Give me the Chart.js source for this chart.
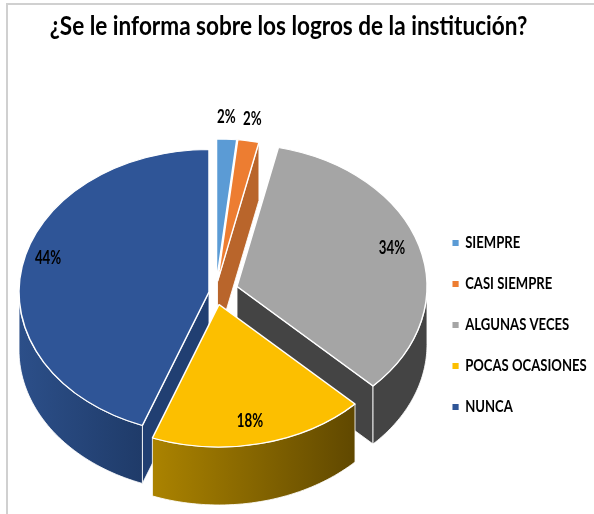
<!DOCTYPE html>
<html><head><meta charset="utf-8">
<script src="https://cdn.jsdelivr.net/npm/chart.js@4"></script>
<style>
html,body{margin:0;padding:0;background:#fff;width:594px;height:514px;overflow:hidden}
#frame{position:absolute;left:6px;top:3px;width:600px;height:520px;border-left:2px solid #d0d0d0;border-top:2px solid #d0d0d0;box-sizing:border-box}
canvas{position:absolute;left:0;top:0}
</style></head><body>
<div id="frame"></div>
<canvas id="c" width="594" height="514"></canvas>
<script>
const titleText = '¿Se le informa sobre los logros de la institución?';
const categories = ['SIEMPRE','CASI SIEMPRE','ALGUNAS VECES','POCAS OCASIONES','NUNCA'];
const percentages = [1.7,1.8,33.8,18.4,44.3];
const topColors = ['#5b9bd5','#ed7d31','#a5a5a5','#fcbf00','#2f5597'];
const wallLeft = ['#4a7fb0','#b9652b','#444444','#ab8300','#2c4f89'];
const wallRight = ['#4a7fb0','#b9652b','#444444','#604800','#1f3b69'];
const faceColors = ['#4a7fb0','#b9652b','#444444','#8a6a00','#213f72'];

// pseudo-3D projection settings
const FONT = 'Lato,"Open Sans",sans-serif';
const center = {x:222, y:292};
const tilt = 0.75, depth = 58, pieRadius = 190;
const explode = [[-5.5,-10.5],[-4.5,-10.5],[15,-5.5],[-3,12.5],[-13,0]];
const wallOrder = [0,1,4,2,3];
const visibleFace = [null,'end','end',null,'start'];
const labelPos = [{r:1.16,dx:-2,dy:1},{r:1.16,dx:-1,dy:1},{r:0.84,dx:2,dy:-4},{r:0.82,dx:-3,dy:2.5},{r:0.85,dx:-2,dy:-12}];
const labelStretch = 0.72;
// Calibri-like proportions: Lato squeezed horizontally
const titleBox = {centerX:288.5, y:9.5, sx:0.868, sy:1};
const legendBox = {left:434, top:82, sx:0.77};

function wrapBox(box,fn){
  const orig=box.draw;
  box.draw=function(a){const ctx=this.ctx;ctx.save();fn(ctx,this);orig.call(this,a);ctx.restore();};
}

const pie3d = {
  id:'pie3d',
  beforeDraw(chart){
    if(chart.$wrapped)return; chart.$wrapped=true;
    wrapBox(chart.titleBlock,(ctx,b)=>{
      ctx.translate(titleBox.centerX,titleBox.y);ctx.scale(titleBox.sx,titleBox.sy);ctx.translate(-(b.left+b.right)/2,-b.top);
    });
    wrapBox(chart.legend,(ctx,b)=>{
      ctx.translate(legendBox.left,legendBox.top);ctx.scale(legendBox.sx,1);ctx.translate(-b.left,-b.top);
    });
  },
  beforeDatasetDraw(chart,args){
    const ctx = chart.ctx, arcs = args.meta.data;
    const origin = i => ({x:center.x+explode[i][0], y:center.y+explode[i][1]});
    const pt = (o,a,r,d=0)=>({x:o.x+r*Math.cos(a), y:o.y+tilt*r*Math.sin(a)+d});
    const poly = (pts,fill)=>{
      ctx.beginPath(); pts.forEach((p,k)=>k?ctx.lineTo(p.x,p.y):ctx.moveTo(p.x,p.y)); ctx.closePath();
      ctx.fillStyle=fill; ctx.fill(); ctx.strokeStyle='rgba(255,255,255,0.85)'; ctx.lineWidth=1; ctx.stroke();
    };
    wallOrder.forEach(i=>{
      const arc=arcs[i], o=origin(i), r=arc.outerRadius;
      const a1=arc.startAngle, a2=arc.endAngle;
      if(visibleFace[i]){
        const p=pt(o,visibleFace[i]==='end'?a2:a1,r);
        poly([{x:o.x,y:o.y},p,{x:p.x,y:p.y+depth},{x:o.x,y:o.y+depth}],faceColors[i]);
      }
      const start=Math.max(a1,0), end=Math.min(a2,Math.PI);
      if(end>start){
        const pts=[],n=48;
        for(let k=0;k<=n;k++)pts.push(pt(o,start+(end-start)*k/n,r));
        for(let k=n;k>=0;k--)pts.push(pt(o,start+(end-start)*k/n,r,depth));
        const xs=pts.map(p=>p.x), g=ctx.createLinearGradient(Math.min(...xs),0,Math.max(...xs),0);
        g.addColorStop(0,wallLeft[i]); g.addColorStop(1,wallRight[i]);
        poly(pts,g);
      }
    });
    arcs.forEach((arc,i)=>{
      const o=origin(i);
      ctx.save();
      ctx.translate(o.x,o.y); ctx.scale(1,tilt); ctx.translate(-arc.x,-arc.y);
      arc.draw(ctx);
      ctx.restore();
    });
    return false;
  },
  afterDatasetsDraw(chart){
    const ctx=chart.ctx, arcs=chart.getDatasetMeta(0).data;
    ctx.save();
    ctx.font='bold 18.5px '+FONT; ctx.fillStyle='#000'; ctx.textAlign='center'; ctx.textBaseline='middle';
    arcs.forEach((arc,i)=>{
      const mid=(arc.startAngle+arc.endAngle)/2, l=labelPos[i];
      const x=center.x+explode[i][0]+arc.outerRadius*l.r*Math.cos(mid)+l.dx;
      const y=center.y+explode[i][1]+tilt*arc.outerRadius*l.r*Math.sin(mid)+l.dy;
      ctx.save();
      ctx.translate(x,y);ctx.scale(labelStretch,1);
      ctx.fillText(Math.round(percentages[i])+'%',0,0);
      ctx.restore();
    });
    ctx.restore();
  }
};

new Chart(document.getElementById('c'),{
  type:'pie',
  data:{labels:categories,datasets:[{data:percentages,backgroundColor:topColors,borderColor:'#ffffff',borderWidth:1.5,radius:pieRadius}]},
  plugins:[pie3d],
  options:{
    responsive:false,animation:false,
    layout:{padding:{top:8,right:4,bottom:20,left:10}},
    plugins:{
      tooltip:{enabled:false},
      title:{display:true,text:titleText,color:'#000',font:{family:FONT,size:26,weight:'bold'},padding:{top:2,bottom:6}},
      legend:{position:'right',labels:{color:'#000',font:{family:FONT,size:17,weight:'bold'},boxWidth:8,boxHeight:6,padding:24,
        generateLabels(chart){return Chart.overrides.pie.plugins.legend.labels.generateLabels(chart).map(x=>({...x,lineWidth:0}));}}}
    }
  }
});
</script>
</body></html>
